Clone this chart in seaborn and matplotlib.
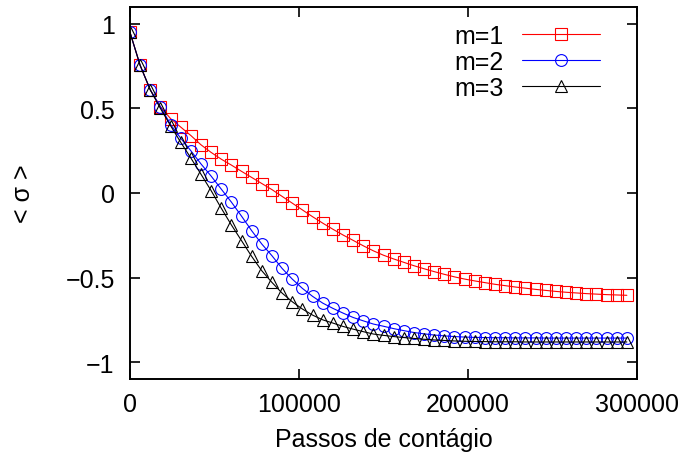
import numpy as np
import pandas as pd
import matplotlib
matplotlib.use("Agg")
import matplotlib.pyplot as plt
import seaborn as sns

# passos de contágio (one point every 6000 steps)
passos = list(range(0, 300000, 6000))

# <sigma> for each m
m1 = [0.95, 0.755, 0.61, 0.51, 0.44, 0.39, 0.34, 0.285, 0.24, 0.20,
      0.165, 0.128, 0.092, 0.056, 0.02, -0.02, -0.06, -0.10, -0.14, -0.178,
      -0.214, -0.248, -0.28, -0.312, -0.342, -0.368, -0.39, -0.41, -0.43, -0.448,
      -0.465, -0.481, -0.496, -0.509, -0.52, -0.53, -0.54, -0.548, -0.556, -0.563,
      -0.57, -0.576, -0.582, -0.587, -0.591, -0.595, -0.598, -0.601, -0.603, -0.605]
m2 = [0.95, 0.755, 0.61, 0.51, 0.405, 0.324, 0.25, 0.172, 0.10, 0.023,
      -0.054, -0.137, -0.223, -0.302, -0.371, -0.446, -0.509, -0.564, -0.611, -0.651,
      -0.682, -0.71, -0.736, -0.756, -0.775, -0.788, -0.802, -0.814, -0.825, -0.833,
      -0.84, -0.845, -0.849, -0.852, -0.854, -0.855, -0.856, -0.856, -0.857, -0.857,
      -0.857, -0.858, -0.858, -0.858, -0.858, -0.858, -0.858, -0.858, -0.858, -0.858]
m3 = [0.95, 0.755, 0.61, 0.50, 0.398, 0.30, 0.207, 0.111, 0.014, -0.09,
      -0.189, -0.282, -0.375, -0.46, -0.529, -0.592, -0.643, -0.686, -0.722, -0.75,
      -0.769, -0.789, -0.805, -0.82, -0.834, -0.842, -0.849, -0.855, -0.86, -0.865,
      -0.869, -0.872, -0.875, -0.877, -0.878, -0.879, -0.88, -0.88, -0.88, -0.881,
      -0.881, -0.881, -0.881, -0.881, -0.881, -0.881, -0.881, -0.881, -0.881, -0.881]

labels = ["m=1", "m=2", "m=3"]
xticks = [0, 100000, 200000, 300000]
xticklabels = ["0", "100000", "200000", "300000"]
yticks = [-1, -0.5, 0, 0.5, 1]
yticklabels = ["\u22121", "\u22120.5", "0", "0.5", "1"]

sns.set_style("ticks")
plt.rcParams["font.family"] = ["Liberation Sans", "DejaVu Sans"]
plt.rcParams["font.size"] = 18
plt.rcParams["text.color"] = "black"
plt.rcParams["axes.labelcolor"] = "black"

fig = plt.figure(figsize=(6.88, 4.64), dpi=100)
ax = fig.add_axes([130 / 688, 1 - 380 / 464, 507 / 688, 372 / 464])

series = [(m1, "#ff0000", "s"), (m2, "#0000ff", "o"), (m3, "#000000", "^")]
for vals, lab, (_, c, mk) in zip([m1, m2, m3], labels, series):
    df = pd.DataFrame({"passos": passos, "sigma": vals})
    sns.lineplot(data=df, x="passos", y="sigma", ax=ax, color=c, marker=mk,
                 markersize=8.5, mfc="none", mec=c, mew=0.8, lw=0.8,
                 label=lab, legend=False)

ax.set_xlim(0, 300000)
ax.set_ylim(-1.1, 1.1)
ax.set_xticks(xticks)
ax.set_xticklabels(xticklabels)
ax.set_yticks(yticks)
ax.set_yticklabels(yticklabels)
ax.tick_params(direction="in", length=7, width=1.2, top=True, right=True,
               labelsize=18, color="black", labelcolor="black")
ax.tick_params(axis="x", pad=9)
ax.tick_params(axis="y", pad=11)
for sp in ax.spines.values():
    sp.set_visible(True)
    sp.set_linewidth(1.4)
    sp.set_color("black")

ax.set_xlabel("Passos de contágio", fontsize=18, labelpad=8, color="black")
ax.set_ylabel("< \u03c3 >", fontsize=18, labelpad=22, color="black")

ax.legend(loc="upper right", bbox_to_anchor=(0.927, 0.954), frameon=False,
          markerfirst=False, handlelength=3.1, handletextpad=0.75,
          labelspacing=0.08, borderpad=0, borderaxespad=0, fontsize=18)

fig.savefig("out.png", dpi=100)
